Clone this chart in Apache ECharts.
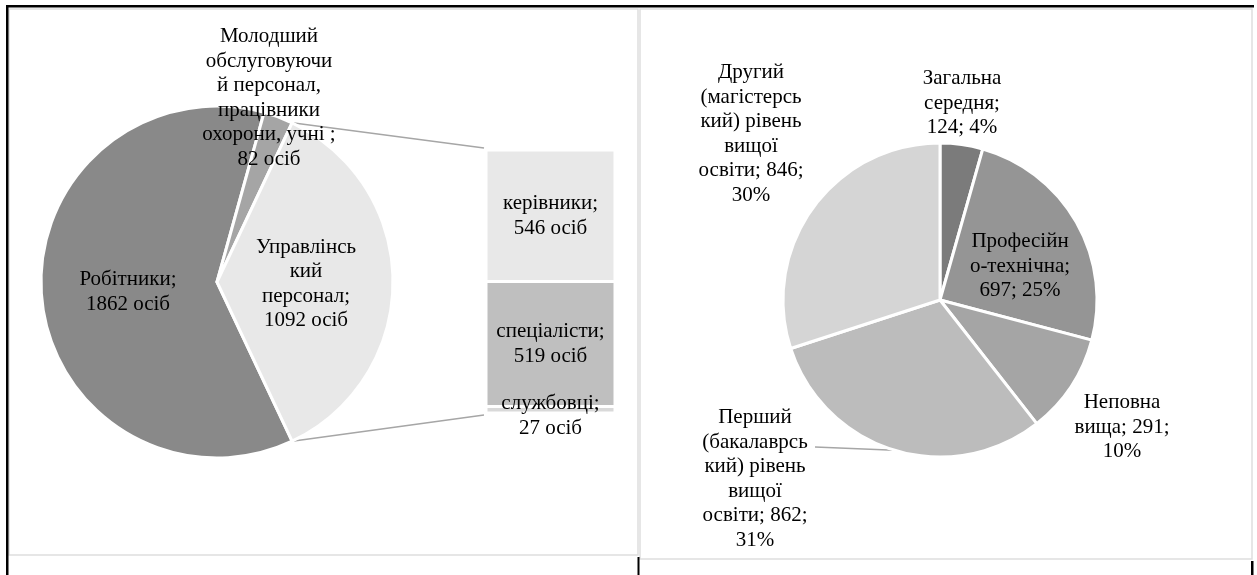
<!DOCTYPE html>
<html><head><meta charset="utf-8">
<script src="https://cdn.jsdelivr.net/npm/echarts@6/dist/echarts.min.js"></script>
<style>html,body{margin:0;padding:0;background:#fff;}#c{width:1257px;height:575px;}</style>
</head><body><div id="c"></div>
<script>
// ---- data ----
const staffNames = ['Робітники', 'Молодший обслуговуючий персонал, працівники охорони, учні', 'Управлінський персонал'];
const staffValues = [1862, 82, 1092];
const staffLabels = ['Робітники;\n{v} осіб', 'Молодший\nобслуговуючи\nй персонал,\nпрацівники\nохорони, учні ;\n{v} осіб', 'Управлінсь\nкий\nперсонал;\n{v} осіб'];

const mgmtNames = ['керівники', 'спеціалісти', 'службовці'];
const mgmtValues = [546, 519, 27];
const mgmtLabels = ['керівники;\n{v} осіб', 'спеціалісти;\n{v} осіб', 'службовці;\n{v} осіб'];

const eduNames = ['Загальна середня', 'Професійно-технічна', 'Неповна вища', 'Перший (бакалаврський) рівень вищої освіти', 'Другий (магістерський) рівень вищої освіти'];
const eduValues = [124, 697, 291, 862, 846];
const eduLabels = ['Загальна\nсередня;\n{v}; {p}%', 'Професійн\nо-технічна;\n{v}; {p}%', 'Неповна\nвища; {v};\n{p}%', 'Перший\n(бакалаврсь\nкий) рівень\nвищої\nосвіти; {v};\n{p}%', 'Другий\n(магістерсь\nкий) рівень\nвищої\nосвіти; {v};\n{p}%'];

// ---- styles / layout ----
const FONT = 'Liberation Serif';
const FS = 21, LH = 24.5;
const staffColors = ['#898989', '#a5a5a5', '#e8e8e8'];
const mgmtColors = ['#e8e8e8', '#bfbfbf', '#d9d9d9'];
const eduColors = ['#7b7b7b', '#959595', '#a5a5a5', '#bcbcbc', '#d5d5d5'];
const staffLabelPos = [[128, 292], [269, 98], [306, 284]];
const eduLabelPos = [[962, 103], [1020, 266], [1122, 427], [755, 479], [751, 134]];
const leaderIdx = 3, leaderEnd = [815, 447];
const P1 = { cx: 217, cy: 282, r: 176 };
const P2 = { cx: 940, cy: 300, r: 157 };
const G = { left: 486, top: 150, width: 129, height: 263 };

const fill = (t, v, p) => t.replace('{v}', v).replace('{p}', p);
const sum = arr => arr.reduce((a, b) => a + b, 0);
const staffTotal = sum(staffValues);
const mgmtTotal = sum(mgmtValues);
const eduTotal = sum(eduValues);
const otherIdx = 2;
const otherDeg = 360 * staffValues[otherIdx] / staffTotal;
const startDeg = -otherDeg / 2; // "other" slice centred at 3 o'clock
const textStyle = { fontFamily: FONT, fontSize: FS, lineHeight: LH, color: '#000' };

const chart = echarts.init(document.getElementById('c'), null, { renderer: 'canvas' });

// connector lines from "other" slice edges to bar
const a = otherDeg / 2 * Math.PI / 180;
const pTop = [P1.cx + P1.r * Math.cos(a), P1.cy - P1.r * Math.sin(a)];
const pBot = [P1.cx + P1.r * Math.cos(a), P1.cy + P1.r * Math.sin(a)];

// leader line for the edu slice: from slice mid-angle on the rim
const before = sum(eduValues.slice(0, leaderIdx));
const midClock = (before + eduValues[leaderIdx] / 2) / eduTotal * 2 * Math.PI;
const pLead = [P2.cx + P2.r * Math.sin(midClock), P2.cy - P2.r * Math.cos(midClock)];

const mgmtOrder = [2, 1, 0]; // stack bottom first

const option = {
  animation: false,
  backgroundColor: '#fff',
  graphic: [
    { type: 'rect', shape: { x: 9, y: 9, width: 629, height: 546 }, style: { fill: '#fff', stroke: '#dedede', lineWidth: 1.5 }, z: -10 },
    { type: 'rect', shape: { x: 640, y: 9, width: 612, height: 550 }, style: { fill: '#fff', stroke: '#dedede', lineWidth: 1.5 }, z: -10 },
    { type: 'rect', shape: { x: 6, y: 5, width: 1248, height: 2.5 }, style: { fill: '#000' }, z: 5 },
    { type: 'rect', shape: { x: 6, y: 5, width: 2.5, height: 570 }, style: { fill: '#000' }, z: 5 },
    { type: 'rect', shape: { x: 637.5, y: 557, width: 2, height: 18 }, style: { fill: '#000' }, z: 5 },
    { type: 'rect', shape: { x: 1251, y: 561, width: 2.5, height: 14 }, style: { fill: '#000' }, z: 5 },
    { type: 'line', shape: { x1: pTop[0], y1: pTop[1], x2: G.left - 2, y2: G.top - 2 }, style: { stroke: '#a6a6a6', lineWidth: 1.5 }, z: 1 },
    { type: 'line', shape: { x1: pBot[0], y1: pBot[1], x2: G.left - 2, y2: G.top + G.height + 2 }, style: { stroke: '#a6a6a6', lineWidth: 1.5 }, z: 1 },
    { type: 'line', shape: { x1: pLead[0], y1: pLead[1], x2: leaderEnd[0], y2: leaderEnd[1] }, style: { stroke: '#a6a6a6', lineWidth: 1.5 }, z: 1 }
  ],
  grid: { left: G.left, top: G.top, width: G.width, height: G.height, containLabel: false },
  xAxis: { type: 'category', data: ['Управлінський персонал'], show: false },
  yAxis: { type: 'value', min: 0, max: mgmtTotal, show: false },
  series: [
    {
      type: 'pie', center: [P1.cx, P1.cy], radius: P1.r, startAngle: startDeg, clockwise: true,
      data: staffNames.map((n, i) => ({ name: n, value: staffValues[i], itemStyle: { color: staffColors[i] } })),
      itemStyle: { borderColor: '#fff', borderWidth: 3 },
      label: { show: true, position: 'inside', ...textStyle, align: 'center',
        formatter: p => fill(staffLabels[p.dataIndex], p.value, '') },
      labelLine: { show: false },
      labelLayout: p => ({ x: staffLabelPos[p.dataIndex][0], y: staffLabelPos[p.dataIndex][1], align: 'center', verticalAlign: 'middle' }),
      emphasis: { disabled: true }
    },
    ...mgmtOrder.map(i => ({
      type: 'bar', stack: 'm', name: mgmtNames[i], barWidth: '100%',
      data: [mgmtValues[i]],
      itemStyle: { color: mgmtColors[i], borderColor: '#fff', borderWidth: 1.5 },
      label: { show: true, position: 'inside', ...textStyle, align: 'center', offset: i === 2 ? [0, 6] : [0, 0],
        formatter: p => fill(mgmtLabels[i], p.value, '') },
      emphasis: { disabled: true }
    })),
    {
      type: 'pie', center: [P2.cx, P2.cy], radius: P2.r, startAngle: 90, clockwise: true,
      data: eduNames.map((n, i) => ({ name: n, value: eduValues[i], itemStyle: { color: eduColors[i] } })),
      itemStyle: { borderColor: '#fff', borderWidth: 3 },
      label: { show: true, position: 'inside', ...textStyle, align: 'center',
        formatter: p => fill(eduLabels[p.dataIndex], p.value, Math.round(p.percent)) },
      labelLine: { show: false },
      labelLayout: p => ({ x: eduLabelPos[p.dataIndex][0], y: eduLabelPos[p.dataIndex][1], align: 'center', verticalAlign: 'middle' }),
      emphasis: { disabled: true }
    }
  ]
};
chart.setOption(option);
</script></body></html>
